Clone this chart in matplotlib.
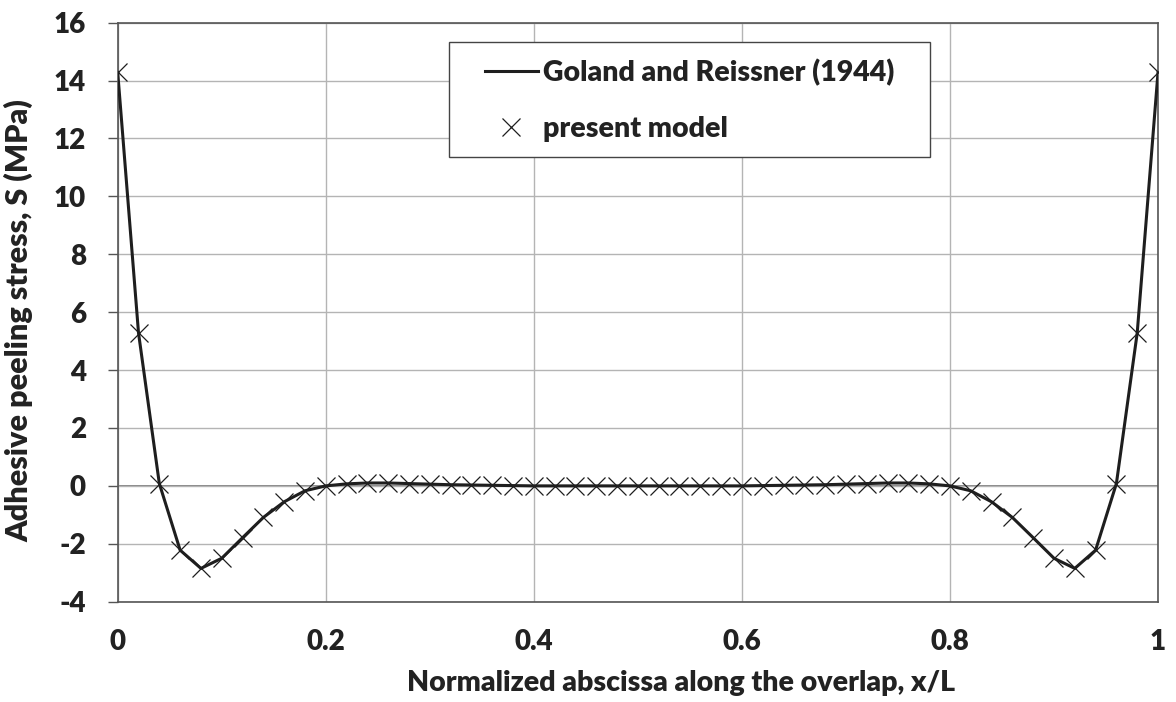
import numpy as np
import matplotlib.pyplot as plt
from matplotlib.patches import Rectangle

plt.rcParams['font.family'] = ['Lato', 'DejaVu Sans']
plt.rcParams['font.weight'] = 'heavy'
plt.rcParams['axes.labelweight'] = 'heavy'
plt.rcParams['axes.unicode_minus'] = False

# normalized abscissa x/L (sampling of the present model)
x = np.round(np.arange(0, 51) * 0.02, 2)

# left half of the peeling stress (MPa), x = 0 .. 0.5
s_left = [14.28, 5.28, 0.08, -2.22, -2.85, -2.50, -1.79, -1.09, -0.55, -0.17,
          0.0, 0.07, 0.10, 0.10, 0.08, 0.06, 0.04, 0.03, 0.02, 0.01,
          0.0, 0.0, 0.0, 0.0, 0.0, 0.0]
# the curve is symmetric about x/L = 0.5
s = np.array(s_left + s_left[-2::-1])

# Goland and Reissner (1944) solution, same stations
s_gr = s.copy()

fig = plt.figure(figsize=(11.76, 7.02), dpi=100)
ax = fig.add_axes([0.1001, 0.1429, 0.8846, 0.8248])

ax.grid(True, color='#b4b4b4', linewidth=1.0)
ax.axhline(0, color='#707070', linewidth=1.2, zorder=1)

ax.plot(x, s_gr, '-', color='#1e1e1e', linewidth=2.2, label='Goland and Reissner (1944)', zorder=3)
ax.plot(x, s, 'x', color='#1e1e1e', markersize=13.5, markeredgewidth=0.9,
        linestyle='none', label='present model', zorder=4)

ax.set_xlim(0, 1)
ax.set_ylim(-4, 16)
ax.set_xticks([0, 0.2, 0.4, 0.6, 0.8, 1])
ax.set_xticklabels(['0', '0.2', '0.4', '0.6', '0.8', '1'])
ax.set_yticks(np.arange(-4, 17, 2))
ax.tick_params(axis='x', length=0, pad=20, labelsize=20, colors='#222222')
ax.tick_params(axis='y', length=7, width=1, color='#555555', pad=16, labelsize=20, labelcolor='#222222')

for sp in ax.spines.values():
    sp.set_color('#555555')
    sp.set_linewidth(1.2)

ax.set_xlabel('Normalized abscissa along the overlap, x/L', fontsize=20.5, color='#222222')
ax.xaxis.set_label_coords(0.5415, -0.118)
ax.set_ylabel('Adhesive peeling stress, S (MPa)', fontsize=22, color='#222222')
ax.yaxis.set_label_coords(-0.0814, 0.485)

# legend box (Excel style) drawn separately from the entries
ax.add_patch(Rectangle((0.3185, 0.768), 0.4623, 0.1987, transform=ax.transAxes,
                       facecolor='white', edgecolor='#444444', linewidth=1.0, zorder=5))
leg = ax.legend(loc='upper left', bbox_to_anchor=(0.3531, 0.938), fontsize=20.5, frameon=False,
                borderpad=0, labelspacing=1.05, handlelength=1.85, handletextpad=0.2,
                borderaxespad=0)
leg.set_zorder(6)
for t in leg.get_texts():
    t.set_color('#222222')

fig.savefig('out.png', dpi=100)
